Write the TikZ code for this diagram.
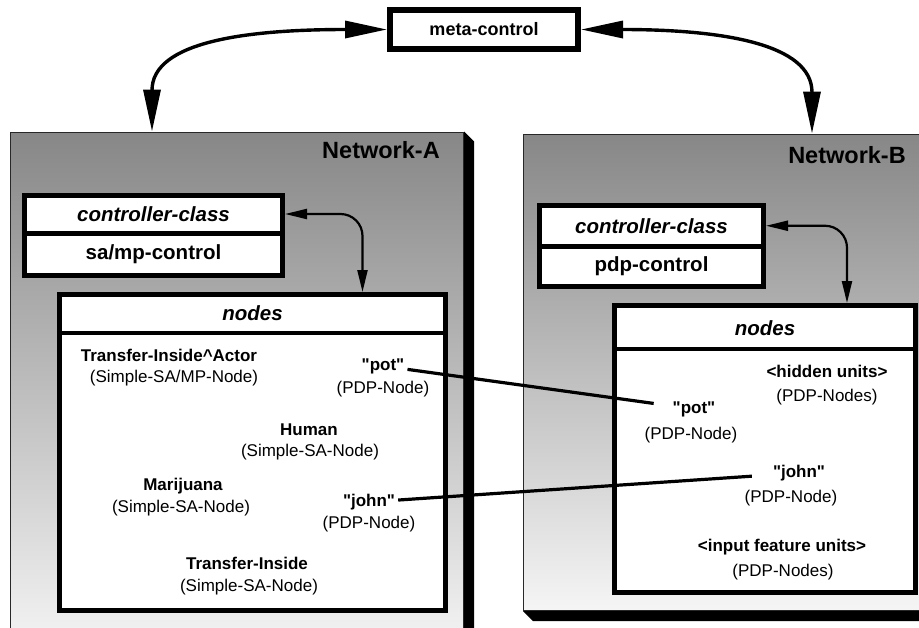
\documentclass[tikz,border=0pt]{standalone}
\usepackage{fontspec}
\setmainfont{Liberation Sans}
\usetikzlibrary{arrows.meta,positioning}
\definecolor{shtop}{RGB}{135,135,135}
\definecolor{shbot}{RGB}{245,245,245}
\definecolor{rim}{RGB}{40,40,40}
\newcommand{\qt}[1]{\textquotedbl#1\textquotedbl}
\tikzset{
  every picture/.style={line join=miter},
  % Schrift
  big/.style={font=\fontsize{23.5}{27}\selectfont\bfseries},
  head/.style={font=\fontsize{20.5}{24}\selectfont\bfseries},
  unit/.style={font=\fontsize{17}{20}\selectfont\bfseries, inner sep=3pt},
  kind/.style={font=\fontsize{17}{20}\selectfont, inner sep=1pt},
  % Kaesten
  panel/.style={draw=rim, line width=1.2pt, top color=shtop, bottom color=shbot,
    anchor=north west, inner sep=0pt},
  box/.style={draw, fill=white, line width=5pt, inner sep=0pt, head},
  divider/.style={line width=4pt},
  % Pfeile und Linien
  bigarrow/.style={line width=3.4pt,
    {Triangle[length=42pt,width=17pt]}-{Triangle[length=42pt,width=17pt]}},
  link/.style={line width=2.2pt, rounded corners=22pt,
    {Triangle[length=22pt,width=10pt]}-{Triangle[length=22pt,width=10pt]}},
  wire/.style={line width=3.2pt},
}
\begin{document}
\begin{tikzpicture}[x=1pt, y=-1pt]
  \clip (0,0) rectangle (919,627);
  % Netzwerke mit Schatten
  \node[panel, minimum width=453, minimum height=520] (netA) at (10,131.5) {};
  \fill (netA.north east) -- ++(10,10) -- ([xshift=10pt]netA.south east) -- (netA.south east) -- cycle;
  \node[panel, minimum width=412, minimum height=476.5] (netB) at (523,133.5) {};
  \fill (netB.south west) -- ++(10,10) -- ([yshift=-10pt]netB.south east) -- (netB.south east) -- cycle;
  \node[big] (titleA) at (381,150) {Network-A};
  \node[big] (titleB) at (847,155) {Network-B};
  % Meta-Steuerung
  \node[box, line width=6pt, font=\fontsize{18}{21}\selectfont\bfseries,
    minimum width=188, minimum height=39] (meta) at (484,29.5) {meta-control};
  % Controller-Klassen
  \node[box, minimum width=258, minimum height=38] (ctrlAh) at (153.5,214) {\itshape controller-class};
  \node[box, minimum width=258, minimum height=42] (ctrlAb) at (153.5,254.5) {sa/mp-control};
  \node[box, minimum width=224, minimum height=40.5] (ctrlBh) at (651.5,225.75) {\itshape controller-class};
  \node[box, minimum width=224, minimum height=40.5] (ctrlBb) at (651.5,266.25) {pdp-control};
  % Knoten-Kaesten
  \node[box, minimum width=386, minimum height=316] (nodesA) at (252.5,452.5) {};
  \draw[divider] ([yshift=-41pt]nodesA.north west) -- ([yshift=-41pt]nodesA.north east);
  \node[head] (nodesAt) at (252.5,313) {\itshape nodes};
  \node[box, minimum width=301, minimum height=287] (nodesB) at (765,449) {};
  \draw[divider] ([yshift=-45.5pt]nodesB.north west) -- ([yshift=-45.5pt]nodesB.north east);
  \node[head] (nodesBt) at (765,328) {\itshape nodes};
  % Einheiten in Network-A
  \node[unit] (actorA) at (169,355) {Transfer-Inside\textasciicircum Actor};
  \node[kind] (actorAk) at (174,378) {(Simple-SA/MP-Node)};
  \node[unit] (potA) at (383,366) {\qt{pot}};
  \node[kind] (potAk) at (383,389) {(PDP-Node)};
  \node[unit] (human) at (309,430) {Human};
  \node[kind] (humank) at (310,452) {(Simple-SA-Node)};
  \node[unit] (marij) at (183,486) {Marijuana};
  \node[kind] (marijk) at (181,508) {(Simple-SA-Node)};
  \node[unit] (johnA) at (369,502) {\qt{john}};
  \node[kind] (johnAk) at (369,524) {(PDP-Node)};
  \node[unit] (tinside) at (247,563) {Transfer-Inside};
  \node[kind] (tinsidek) at (249,587) {(Simple-SA-Node)};
  % Einheiten in Network-B
  \node[unit] (hidden) at (827,371) {<hidden units>};
  \node[kind] (hiddenk) at (827,397) {(PDP-Nodes)};
  \node[unit] (potB) at (694,409) {\qt{pot}};
  \node[kind] (potBk) at (691,435) {(PDP-Node)};
  \node[unit] (johnB) at (799,473) {\qt{john}};
  \node[kind] (johnBk) at (791,498) {(PDP-Node)};
  \node[unit] (input) at (782,547) {<input feature units>};
  \node[kind] (inputk) at (783,572) {(PDP-Nodes)};
  % Verbindungen
  \draw[wire, shorten >=16pt] (potA) -- (potB);
  \draw[wire, shorten >=18pt] (johnA) -- (johnB);
  \draw[link] (ctrlAh.east) -| ([xshift=110pt]nodesA.north);
  \draw[link] (ctrlBh.east) -| ([xshift=82pt]nodesB.north);
  \draw[bigarrow] (meta.west) .. controls +(-140,0) and +(0,-90) .. ([xshift=142pt]netA.north west);
  \draw[bigarrow] (meta.east) .. controls +(140,0) and +(0,-90) .. ([xshift=289pt]netB.north west);
\end{tikzpicture}
\end{document}
